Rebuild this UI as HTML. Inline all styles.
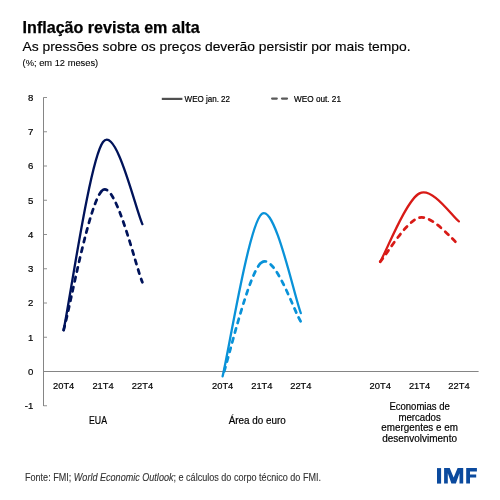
<!DOCTYPE html>
<html><head><meta charset="utf-8">
<style>
html,body{margin:0;padding:0;background:#fff;width:500px;height:500px;overflow:hidden}
svg{position:absolute;left:0;top:0;will-change:transform}
text{font-family:"Liberation Sans",sans-serif}
</style></head><body>
<svg width="500" height="500" viewBox="0 0 500 500">
<line x1="43.5" y1="97.4" x2="43.5" y2="406" stroke="#858585" stroke-width="1"/>
<line x1="43.5" y1="405.75" x2="47" y2="405.75" stroke="#858585" stroke-width="0.9"/>
<line x1="43.5" y1="371.50" x2="47" y2="371.50" stroke="#858585" stroke-width="0.9"/>
<line x1="43.5" y1="337.25" x2="47" y2="337.25" stroke="#858585" stroke-width="0.9"/>
<line x1="43.5" y1="303.00" x2="47" y2="303.00" stroke="#858585" stroke-width="0.9"/>
<line x1="43.5" y1="268.75" x2="47" y2="268.75" stroke="#858585" stroke-width="0.9"/>
<line x1="43.5" y1="234.50" x2="47" y2="234.50" stroke="#858585" stroke-width="0.9"/>
<line x1="43.5" y1="200.25" x2="47" y2="200.25" stroke="#858585" stroke-width="0.9"/>
<line x1="43.5" y1="166.00" x2="47" y2="166.00" stroke="#858585" stroke-width="0.9"/>
<line x1="43.5" y1="131.75" x2="47" y2="131.75" stroke="#858585" stroke-width="0.9"/>
<line x1="43.5" y1="97.50" x2="47" y2="97.50" stroke="#858585" stroke-width="0.9"/>
<line x1="43" y1="371.5" x2="478.6" y2="371.5" stroke="#858585" stroke-width="1"/>
<path d="M103.00 189.94 C89.87 197.92 70.17 306.79 63.60 330.16" fill="none" stroke="#00135a" stroke-width="2.75" stroke-dasharray="4.4 5.6" stroke-dashoffset="8.1" stroke-linecap="round"/>
<path d="M103.00 189.94 C116.13 181.96 135.83 266.89 142.40 282.28" fill="none" stroke="#00135a" stroke-width="2.75" stroke-dasharray="4.4 5.6" stroke-linecap="round"/>
<path d="M63.60 330.16 C70.17 298.81 89.87 159.73 103.00 142.06 C116.13 124.39 135.83 210.46 142.40 224.14" fill="none" stroke="#00135a" stroke-width="2.3" stroke-linecap="round"/>
<path d="M261.80 262.27 C248.77 271.39 229.13 357.32 222.60 376.33" fill="none" stroke="#0992d8" stroke-width="2.75" stroke-dasharray="4.4 5.6" stroke-dashoffset="8.55" stroke-linecap="round"/>
<path d="M261.80 262.27 C274.83 253.15 294.30 311.72 300.80 321.61" fill="none" stroke="#0992d8" stroke-width="2.75" stroke-dasharray="4.4 5.6" stroke-linecap="round"/>
<path d="M222.60 376.33 C229.13 349.25 248.77 224.42 261.80 213.88 C274.83 203.34 294.30 296.53 300.80 313.06" fill="none" stroke="#0992d8" stroke-width="2.3" stroke-linecap="round"/>
<path d="M419.50 217.64 C406.38 220.49 386.75 254.41 380.20 261.76" fill="none" stroke="#d81a16" stroke-width="2.75" stroke-dasharray="4.4 5.6" stroke-dashoffset="4.5" stroke-linecap="round"/>
<path d="M419.50 217.64 C432.62 214.79 452.33 240.16 458.90 244.66" fill="none" stroke="#d81a16" stroke-width="2.75" stroke-dasharray="4.4 5.6" stroke-linecap="round"/>
<path d="M380.20 261.76 C386.75 250.36 406.38 200.09 419.50 193.36 C432.62 186.63 452.33 216.73 458.90 221.40" fill="none" stroke="#d81a16" stroke-width="2.3" stroke-linecap="round"/>
<line x1="161.8" y1="98.9" x2="182.4" y2="98.9" stroke="#505050" stroke-width="2.2"/>
<line x1="272.1" y1="98.6" x2="276.8" y2="98.6" stroke="#5a5a5a" stroke-width="2.2" stroke-linecap="round"/>
<line x1="282" y1="98.6" x2="287" y2="98.6" stroke="#5a5a5a" stroke-width="2.2" stroke-linecap="round"/>
<g fill="#0b4a9e"><rect x="437" y="468.1" width="4.1" height="15.5"/><polygon points="444.1,468.1 449.7,468.1 453.65,477.4 457.6,468.1 463.2,468.1 463.2,483.6 459.5,483.6 459.5,473.2 455.9,483.6 451.4,483.6 447.8,473.2 447.8,483.6 444.1,483.6"/><polygon points="466.2,468.1 476.9,468.1 476.9,471.4 470,471.4 470,474.4 476.2,474.4 476.2,477.6 470,477.6 470,483.6 466.2,483.6"/></g>
<text x="33.4" y="409.10" font-size="9.6" text-anchor="end" font-weight="normal" fill="#000" stroke="#000" stroke-width="0.2">-1</text>
<text x="33.4" y="374.85" font-size="9.6" text-anchor="end" font-weight="normal" fill="#000" stroke="#000" stroke-width="0.2">0</text>
<text x="33.4" y="340.60" font-size="9.6" text-anchor="end" font-weight="normal" fill="#000" stroke="#000" stroke-width="0.2">1</text>
<text x="33.4" y="306.35" font-size="9.6" text-anchor="end" font-weight="normal" fill="#000" stroke="#000" stroke-width="0.2">2</text>
<text x="33.4" y="272.10" font-size="9.6" text-anchor="end" font-weight="normal" fill="#000" stroke="#000" stroke-width="0.2">3</text>
<text x="33.4" y="237.85" font-size="9.6" text-anchor="end" font-weight="normal" fill="#000" stroke="#000" stroke-width="0.2">4</text>
<text x="33.4" y="203.60" font-size="9.6" text-anchor="end" font-weight="normal" fill="#000" stroke="#000" stroke-width="0.2">5</text>
<text x="33.4" y="169.35" font-size="9.6" text-anchor="end" font-weight="normal" fill="#000" stroke="#000" stroke-width="0.2">6</text>
<text x="33.4" y="135.10" font-size="9.6" text-anchor="end" font-weight="normal" fill="#000" stroke="#000" stroke-width="0.2">7</text>
<text x="33.4" y="100.85" font-size="9.6" text-anchor="end" font-weight="normal" fill="#000" stroke="#000" stroke-width="0.2">8</text>
<text x="53.0" y="388.5" font-size="9.6" text-anchor="start" font-weight="normal" fill="#000" textLength="21.3" lengthAdjust="spacingAndGlyphs" stroke="#000" stroke-width="0.2">20T4</text>
<text x="92.4" y="388.5" font-size="9.6" text-anchor="start" font-weight="normal" fill="#000" textLength="21.3" lengthAdjust="spacingAndGlyphs" stroke="#000" stroke-width="0.2">21T4</text>
<text x="131.8" y="388.5" font-size="9.6" text-anchor="start" font-weight="normal" fill="#000" textLength="21.3" lengthAdjust="spacingAndGlyphs" stroke="#000" stroke-width="0.2">22T4</text>
<text x="212.0" y="388.5" font-size="9.6" text-anchor="start" font-weight="normal" fill="#000" textLength="21.3" lengthAdjust="spacingAndGlyphs" stroke="#000" stroke-width="0.2">20T4</text>
<text x="251.2" y="388.5" font-size="9.6" text-anchor="start" font-weight="normal" fill="#000" textLength="21.3" lengthAdjust="spacingAndGlyphs" stroke="#000" stroke-width="0.2">21T4</text>
<text x="290.2" y="388.5" font-size="9.6" text-anchor="start" font-weight="normal" fill="#000" textLength="21.3" lengthAdjust="spacingAndGlyphs" stroke="#000" stroke-width="0.2">22T4</text>
<text x="369.6" y="388.5" font-size="9.6" text-anchor="start" font-weight="normal" fill="#000" textLength="21.3" lengthAdjust="spacingAndGlyphs" stroke="#000" stroke-width="0.2">20T4</text>
<text x="408.9" y="388.5" font-size="9.6" text-anchor="start" font-weight="normal" fill="#000" textLength="21.3" lengthAdjust="spacingAndGlyphs" stroke="#000" stroke-width="0.2">21T4</text>
<text x="448.3" y="388.5" font-size="9.6" text-anchor="start" font-weight="normal" fill="#000" textLength="21.3" lengthAdjust="spacingAndGlyphs" stroke="#000" stroke-width="0.2">22T4</text>
<text x="22.6" y="32.8" font-size="15.6" text-anchor="start" font-weight="bold" fill="#000" textLength="177" lengthAdjust="spacingAndGlyphs" stroke="#000" stroke-width="0.25">Inflação revista em alta</text>
<text x="22.5" y="51" font-size="13.3" text-anchor="start" font-weight="normal" fill="#000" textLength="388" lengthAdjust="spacingAndGlyphs" stroke="#000" stroke-width="0.15">As pressões sobre os preços deverão persistir por mais tempo.</text>
<text x="22.6" y="66.3" font-size="9.8" text-anchor="start" font-weight="normal" fill="#000" textLength="75.6" lengthAdjust="spacingAndGlyphs" stroke="#000" stroke-width="0.1">(%; em 12 meses)</text>
<text x="184.6" y="102.1" font-size="8.8" text-anchor="start" font-weight="normal" fill="#000" textLength="45.4" lengthAdjust="spacingAndGlyphs" stroke="#000" stroke-width="0.2">WEO jan. 22</text>
<text x="294" y="102.1" font-size="8.8" text-anchor="start" font-weight="normal" fill="#000" textLength="47" lengthAdjust="spacingAndGlyphs" stroke="#000" stroke-width="0.2">WEO out. 21</text>
<text x="89" y="423.8" font-size="10.6" text-anchor="start" font-weight="normal" fill="#000" textLength="18" lengthAdjust="spacingAndGlyphs" stroke="#000" stroke-width="0.2">EUA</text>
<text x="228.7" y="423.7" font-size="10.4" text-anchor="start" font-weight="normal" fill="#000" textLength="57" lengthAdjust="spacingAndGlyphs" stroke="#000" stroke-width="0.2">Área do euro</text>
<text x="389.4" y="410.4" font-size="10.4" text-anchor="start" font-weight="normal" fill="#000" textLength="60.4" lengthAdjust="spacingAndGlyphs" stroke="#000" stroke-width="0.2">Economias de</text>
<text x="398.4" y="420.8" font-size="10.4" text-anchor="start" font-weight="normal" fill="#000" textLength="42.4" lengthAdjust="spacingAndGlyphs" stroke="#000" stroke-width="0.2">mercados</text>
<text x="381.3" y="431.1" font-size="10.4" text-anchor="start" font-weight="normal" fill="#000" textLength="76.6" lengthAdjust="spacingAndGlyphs" stroke="#000" stroke-width="0.2">emergentes e em</text>
<text x="382.2" y="441.5" font-size="10.4" text-anchor="start" font-weight="normal" fill="#000" textLength="74.8" lengthAdjust="spacingAndGlyphs" stroke="#000" stroke-width="0.2">desenvolvimento</text>
<text x="25" y="480.6" font-size="10.6" text-anchor="start" font-weight="normal" fill="#333" textLength="296" lengthAdjust="spacingAndGlyphs" stroke="#333" stroke-width="0.12">Fonte: FMI; <tspan font-style="italic">World Economic Outlook</tspan>; e cálculos do corpo técnico do FMI.</text>
</svg>
</body></html>
